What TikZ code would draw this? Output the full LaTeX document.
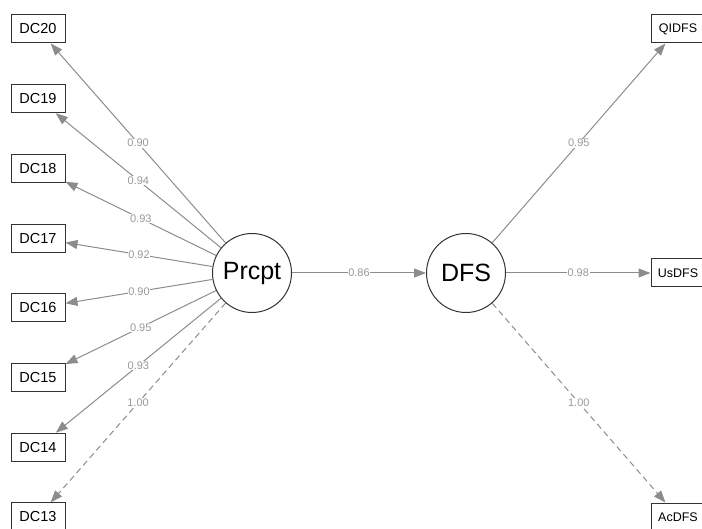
\documentclass[tikz,border=0pt]{standalone}
\usepackage{fontspec}
\setmainfont{Liberation Sans}
\usepackage{tikz}
\usetikzlibrary{arrows.meta}

\begin{document}
\begin{tikzpicture}[x=1pt, y=-1pt, node distance={69.7pt}, thick,
    main/.style = {draw=black!80, circle, minimum size=79pt, inner sep=0pt, line width=1pt, font=\fontsize{25}{25}\selectfont},
    ind/.style = {draw=black!80, rectangle, minimum width=54pt, minimum height=28pt, inner sep=0pt, line width=1pt, font=\fontsize{14.5}{14.5}\selectfont},
    load/.style = {draw=black!45, line width=1pt, -{Triangle[length=12pt, width=9pt]}},
    fixed/.style = {dash pattern=on 6pt off 4pt},
    val/.style = {fill=white, inner sep=0.6pt, text=black!40, font=\fontsize{11}{11}\selectfont}]

    \useasboundingbox (0,0) rectangle (702,529);

    \node[main] (1) at (252,273) {Prcpt};
    \node[main] (2) at (466,273) {DFS};

    \node[ind] (3) at (38,29) {DC20};
    \node[ind] (4) [below of=3] {DC19};
    \node[ind] (5) [below of=4] {DC18};
    \node[ind] (6) [below of=5] {DC17};
    \node[ind] (7) [below of=6] {DC16};
    \node[ind] (8) [below of=7] {DC15};
    \node[ind] (9) [below of=8] {DC14};
    \node[ind] (10) [below of=9] {DC13};

    \node[ind, font=\fontsize{12.5}{12.5}\selectfont] (11) at (678,29) {QIDFS};
    \node[ind, font=\fontsize{12.5}{12.5}\selectfont] (12) at (678,273) {UsDFS};
    \node[ind, font=\fontsize{12.5}{12.5}\selectfont] (13) at (678,517) {AcDFS};

    \draw[load] (1) -- node[val] {0.90} (3);
    \draw[load] (1) -- node[val] {0.94} (4);
    \draw[load] (1) -- node[val] {0.93} (5);
    \draw[load] (1) -- node[val] {0.92} (6);
    \draw[load] (1) -- node[val] {0.90} (7);
    \draw[load] (1) -- node[val] {0.95} (8);
    \draw[load] (1) -- node[val] {0.93} (9);
    \draw[load, fixed] (1) -- node[val] {1.00} (10);

    \draw[load] (1) -- node[val] {0.86} (2);

    \draw[load] (2) -- node[val] {0.95} (11);
    \draw[load] (2) -- node[val] {0.98} (12);
    \draw[load, fixed] (2) -- node[val] {1.00} (13);
\end{tikzpicture}
\end{document}
